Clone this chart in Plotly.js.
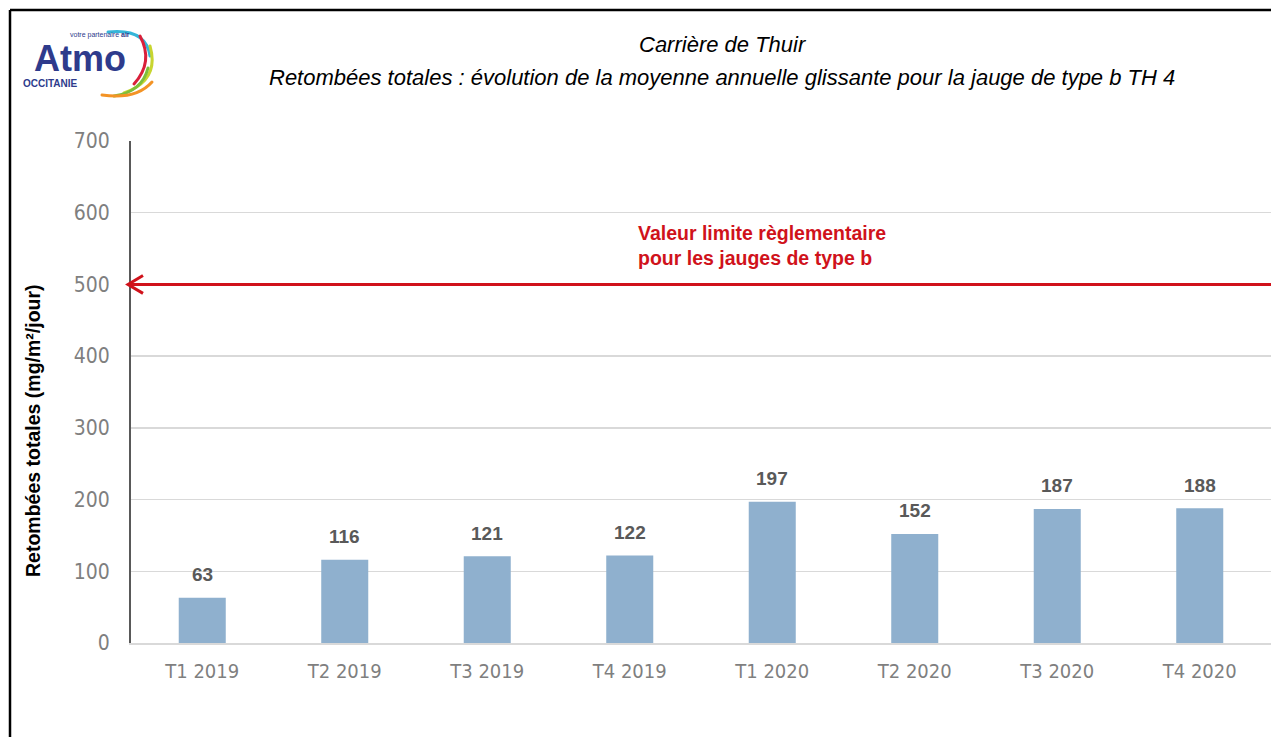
<!DOCTYPE html>
<html><head><meta charset="utf-8">
<script src="https://cdn.plot.ly/plotly-3.0.1.min.js"></script>
<style>html,body{margin:0;padding:0;background:#fff;}#chart{width:1271px;height:737px;}</style>
</head><body><div id="chart"></div>
<script>
const categories = ["T1 2019","T2 2019","T3 2019","T4 2019","T1 2020","T2 2020","T3 2020","T4 2020"];
const values = [63,116,121,122,197,152,187,188];
const limitValue = 500;
const yTicks = [0,100,200,300,400,500,600,700];
const titleLine1 = "Carrière de Thuir";
const titleLine2 = "Retombées totales : évolution de la moyenne annuelle glissante pour la jauge de type b TH 4";
const yTitle = "Retombées totales (mg/m²/jour)";
const limitLabel = "Valeur limite règlementaire<br>pour les jauges de type b";

const W = 1271, H = 737, L = 131, R = 0, T = 141, B = 94;
const pw = W - L - R, ph = H - T - B;
const px = x => (x - L) / pw;
const py = y => (H - B - y) / ph;
const navy = "#2E3B8C";
const narrow = "DejaVu Sans Condensed, Liberation Sans Narrow, Arial Narrow, sans-serif";

const logoSvg = `<svg xmlns='http://www.w3.org/2000/svg' width='160' height='90' viewBox='0 0 160 90'>
<g fill='none' stroke-linecap='round' stroke-width='3'>
<path d='M108 12 Q146 8 150 36' stroke='#35B6D9'/>
<path d='M140 16 Q154 42 134 64' stroke='#D9203A'/>
<path d='M150 26 Q160 60 124 73' stroke='#C8D530'/>
<path d='M148 48 Q142 72 114 76' stroke='#7DBE3B'/>
<path d='M152 62 Q136 80 102 75' stroke='#F39325'/>
</g></svg>`;

const trace = {
  type: "bar", x: categories, y: values,
  marker: {color: "#8FB0CE"},
  hoverinfo: "x+y"
};

const annotations = [];
categories.forEach((c, i) => annotations.push({
  x: c, y: values[i], xref: "x", yref: "y", text: String(values[i]),
  showarrow: false, yshift: 23,
  font: {family: "Liberation Sans, Arial, sans-serif", size: 19, color: "#595959", weight: "bold"}
}));
annotations.push(
  {xref: "paper", yref: "paper", x: px(723), y: py(45), text: titleLine1, showarrow: false,
   xanchor: "center", yanchor: "middle",
   font: {family: "Liberation Sans, Arial, sans-serif", size: 22, color: "#000", style: "italic"}},
  {xref: "paper", yref: "paper", x: px(722), y: py(78), text: titleLine2, showarrow: false,
   xanchor: "center", yanchor: "middle",
   font: {family: "Liberation Sans, Arial, sans-serif", size: 22, color: "#000", style: "italic"}},
  {xref: "paper", yref: "paper", x: px(33), y: py(431), text: yTitle, showarrow: false, textangle: -90,
   xanchor: "center", yanchor: "middle",
   font: {family: "Liberation Sans, Arial, sans-serif", size: 19.5, color: "#000", weight: "bold"}},
  {xref: "paper", yref: "paper", x: px(636), y: py(245), text: limitLabel, showarrow: false,
   xanchor: "left", yanchor: "middle", align: "left",
   font: {family: "Liberation Sans, Arial, sans-serif", size: 19.5, color: "#D0121B", weight: "bold"}},
  {xref: "paper", yref: "paper", x: px(80), y: py(59), text: "Atmo", showarrow: false,
   xanchor: "center", yanchor: "middle",
   font: {family: "Liberation Sans, Arial, sans-serif", size: 36, color: navy, weight: "bold"}},
  {xref: "paper", yref: "paper", x: px(21), y: py(83), text: "OCCITANIE", showarrow: false,
   xanchor: "left", yanchor: "middle",
   font: {family: "Liberation Sans, Arial, sans-serif", size: 10, color: navy, weight: "bold"}},
  {xref: "paper", yref: "paper", x: px(100), y: py(35), text: "votre partenaire <b>air</b>", showarrow: false,
   xanchor: "center", yanchor: "middle",
   font: {family: "Liberation Sans, Arial, sans-serif", size: 7, color: navy}}
);

const shapes = [
  {type: "line", xref: "paper", yref: "y", x0: px(129), x1: 1, y0: limitValue, y1: limitValue,
   line: {color: "#D0121B", width: 3}, layer: "above"},
  {type: "path", xref: "paper", yref: "y",
   path: `M ${px(143)},${limitValue + 12.5} L ${px(128)},${limitValue} L ${px(143)},${limitValue - 12.5}`,
   line: {color: "#D0121B", width: 3}, layer: "above"},
  {type: "line", xref: "paper", yref: "paper", x0: px(10), x1: px(10), y0: py(10), y1: py(737),
   line: {color: "#000", width: 2.5}, layer: "above"},
  {type: "line", xref: "paper", yref: "paper", x0: px(10), x1: px(1271), y0: py(10), y1: py(10),
   line: {color: "#000", width: 2.5}, layer: "above"}
];

const layout = {
  width: W, height: H,
  margin: {l: L, r: R, t: T, b: B, pad: 0},
  paper_bgcolor: "#fff", plot_bgcolor: "#fff",
  showlegend: false,
  bargap: 0.67,
  xaxis: {
    type: "category", showgrid: false, zeroline: false,
    showline: true, linecolor: "#D9D9D9", linewidth: 2,
    ticks: "", tickfont: {family: narrow, size: 20, color: "#7F7F7F"},
    ticklabelstandoff: 9
  },
  yaxis: {
    range: [0, 700], tickvals: yTicks, ticktext: yTicks.map(String),
    showgrid: true, gridcolor: "#D9D9D9", gridwidth: 1.5,
    zeroline: false, showline: true, linecolor: "#595959", linewidth: 2,
    ticks: "", tickfont: {family: narrow, size: 21, color: "#7F7F7F"},
    ticklabelstandoff: 15
  },
  annotations: annotations,
  shapes: shapes,
  images: [{
    source: "data:image/svg+xml;charset=utf-8," + encodeURIComponent(logoSvg),
    xref: "paper", yref: "paper", x: px(0), y: py(20), sizex: 160 / pw, sizey: 90 / ph,
    xanchor: "left", yanchor: "top", sizing: "stretch", layer: "above"
  }]
};

Plotly.newPlot("chart", [trace], layout, {displayModeBar: false, staticPlot: true});
</script></body></html>
